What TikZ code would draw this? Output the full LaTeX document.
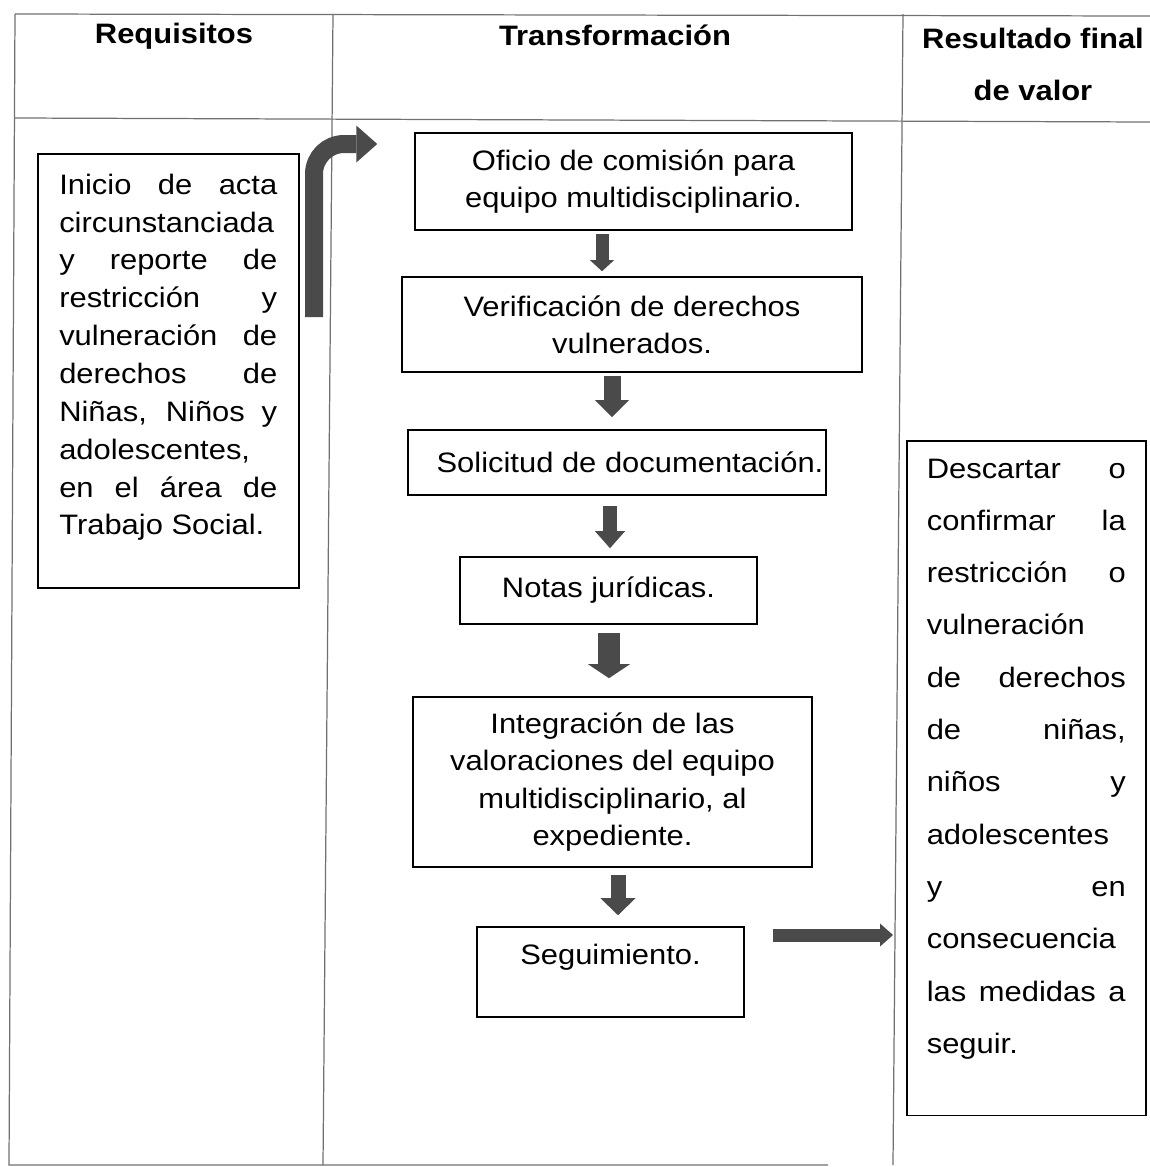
\documentclass[tikz,border=0pt]{standalone}
\usepackage{fontspec}
\setmainfont[FakeStretch=1.1]{Liberation Sans}
\usetikzlibrary{arrows.meta}

\definecolor{arrgray}{HTML}{4A4A4A}
\definecolor{rulegray}{HTML}{707070}
\newcommand{\fullline}[1]{\makebox[\linewidth][s]{#1}}

\tikzset{
  rule/.style={draw=rulegray, line width=0.7pt},
  head/.style={font=\fontsize{16}{29.5}\selectfont\bfseries, inner sep=0pt, align=center},
  flow/.style={draw, line width=0.9pt, inner sep=0pt, align=center, font=\fontsize{16}{21.2}\selectfont},
  side/.style={draw, line width=0.9pt, anchor=north west},
  blk/.style n args={3}{draw=arrgray, line width=#1, -{Triangle[width=#2, length=#3, line width=0pt]}},
}

\begin{document}
\begin{tikzpicture}[x=0.02cm,y=-0.02cm]
  \useasboundingbox (0,0) rectangle (1150,1167);

  % table
  \draw[rule] (15,14) -- (1150,16);
  \draw[rule] (15,118) -- (1150,122);
  \draw[rule] (15,14) -- (9,1165) -- (828,1165);
  \draw[rule] (333,14) -- (323,1165);
  \draw[rule] (903,14) -- (893,1165);

  \path
  node[head, anchor=base] (h_req) at (174,43) {Requisitos}
  node[head, anchor=base] (h_tra) at (615,45) {Transformación}
  node[head, anchor=north] (h_res) at (1033,28) {Resultado final\\de valor}
  ;

  % requisitos
  \node[side, inner xsep=0.43cm, inner ysep=0.4cm] (req) at (37,153)
    {\parbox[t][7.88cm][t]{4.36cm}{\fontsize{16}{21.55}\selectfont
      \fullline{Inicio de acta}\\
      circunstanciada\\
      \fullline{y reporte de}\\
      \fullline{restricción y}\\
      \fullline{vulneración de}\\
      \fullline{derechos de}\\
      \fullline{Niñas, Niños y}\\
      adolescentes,\\
      \fullline{en el área de}\\
      Trabajo Social.}};

  % transformacion
  \path
  node[flow, minimum width=8.74cm, minimum height=1.94cm] (t_1) at (633.5,181.5)
    {Oficio de comisión para\\equipo multidisciplinario.}
  node[flow, minimum width=9.2cm, minimum height=1.9cm] (t_2) at (632,324.5)
    {Verificación de derechos\\vulnerados.}
  node[flow, minimum width=8.36cm, minimum height=1.3cm] (t_3) at (617,462.5)
    {\hspace*{0.52cm}Solicitud de documentación.}
  node[flow, minimum width=5.94cm, minimum height=1.34cm] (t_4) at (608.5,590.5)
    {Notas jurídicas.}
  node[flow, minimum width=7.98cm, minimum height=3.4cm] (t_5) at (612.5,782)
    {Integración de las\\valoraciones del equipo\\multidisciplinario, al\\expediente.}
  node[flow, minimum width=5.34cm, text height=0.74cm, text depth=1.06cm] (t_6) at (610.5,972)
    {Seguimiento.}
  ;

  % resultado
  \node[side, inner xsep=0.4cm, inner ysep=0.36cm] (res) at (906,440)
    {\parbox[t][12.78cm][t]{3.98cm}{\fontsize{16}{29.76}\selectfont
      \fullline{Descartar o}\\
      \fullline{confirmar la}\\
      \fullline{restricción o}\\
      vulneración\\
      \fullline{de derechos}\\
      \fullline{de niñas,}\\
      \fullline{niños y}\\
      adolescentes\\
      \fullline{y en}\\
      consecuencia\\
      \fullline{las medidas a}\\
      seguir.}};

  % arrows
  \coordinate (c_0) at (314,317);
  \draw[blk={0.36cm}{0.74cm}{0.42cm}, rounded corners=0.6cm, shorten >=0.74cm]
    (c_0) |- (t_1.west |- 0,144);

  \path
  (t_1.south -| 602,0) edge[blk={0.26cm}{0.48cm}{0.22cm}, shorten <=0.06cm, shorten >=0.1cm] (t_2.north -| 602,0)
  (t_2.south -| 612,0) edge[blk={0.34cm}{0.68cm}{0.34cm}, shorten <=0.06cm, shorten >=0.24cm] (t_3.north -| 612,0)
  (t_3.south -| 610,0) edge[blk={0.28cm}{0.6cm}{0.34cm}, shorten <=0.2cm, shorten >=0.16cm] (t_4.north -| 610,0)
  (t_4.south -| 609,0) edge[blk={0.44cm}{0.84cm}{0.28cm}, shorten <=0.16cm, shorten >=0.36cm] (t_5.north -| 609,0)
  (t_5.south -| 618,0) edge[blk={0.3cm}{0.7cm}{0.34cm}, shorten <=0.14cm, shorten >=0.22cm] (t_6.north -| 618,0)
  (t_6.east |- 0,935) edge[blk={0.26cm}{0.46cm}{0.26cm}, shorten <=0.56cm, shorten >=0.26cm] (res.west |- 0,935)
  ;
\end{tikzpicture}
\end{document}
